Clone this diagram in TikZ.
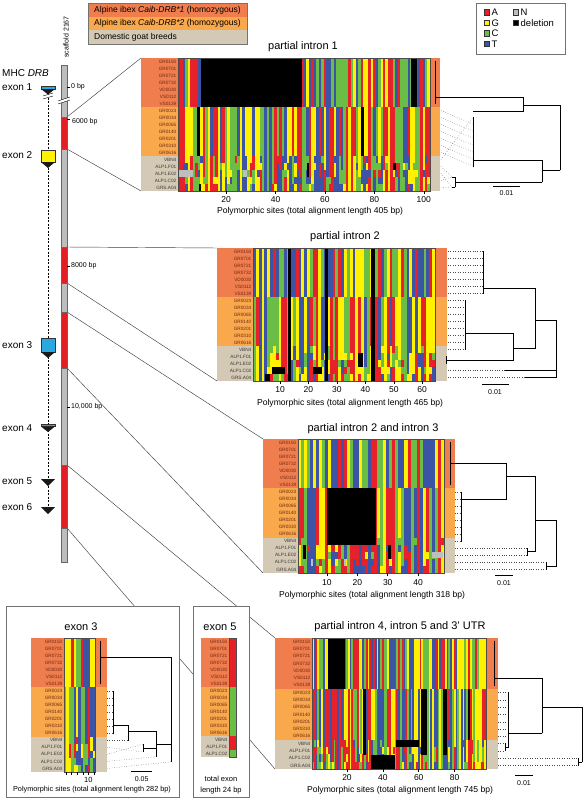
\documentclass[tikz,border=0pt]{standalone}
\usepackage{fontspec}
\setmainfont{Liberation Sans}
\definecolor{nc1}{HTML}{E62129}
\definecolor{nc2}{HTML}{FFF100}
\definecolor{nc3}{HTML}{6ABD45}
\definecolor{nc4}{HTML}{3B54A5}
\definecolor{ncN}{HTML}{BEBEBE}
\definecolor{bandA}{HTML}{F07D4E}
\definecolor{bandB}{HTML}{F9A84C}
\definecolor{bandC}{HTML}{D3C9B4}
\definecolor{labA}{HTML}{6E2A14}
\definecolor{labC}{HTML}{3A3A3A}
\definecolor{exblue}{HTML}{29A9E0}
\definecolor{exyel}{HTML}{FFF200}
\definecolor{scafred}{HTML}{E31E24}
\definecolor{scafgray}{HTML}{BDBDBD}
\newcommand{\Lnineteen}{GR0150,GR0701,GR0721,GR0732,VD0030,VS0112,VS0139,GR0023,GR0034,GR0065,GR0140,GR0201,GR0310,GR0616,VBN4,ALP1.F01,ALP1.E02,ALP1.C02,GRS.A04}
\newcommand{\Leighteen}{GR0150,GR0701,GR0721,GR0732,VD0030,VS0112,VS0139,GR0023,GR0034,GR0065,GR0140,GR0201,GR0310,GR0616,VBN4,ALP1.F01,ALP1.C02,GRS.A04}
\newcommand{\Lseventeen}{GR0150,GR0701,GR0721,GR0732,VD0030,VS0112,VS0139,GR0023,GR0034,GR0065,GR0140,GR0201,GR0310,GR0616,VBN4,ALP1.F01,ALP1.C02}
\newcommand{\bandbg}[5]{%
  \fill[bandA] (#1,#3) rectangle (#2,{#3+7*#4});
  \fill[bandB] (#1,{#3+7*#4}) rectangle (#2,{#3+14*#4});
  \fill[bandC] (#1,{#3+14*#4}) rectangle (#2,{#3+(14+#5)*#4});
}
\newcommand{\rowlabels}[5]{%
  \foreach \lab [count=\ii] in #4 {
    \ifnum\ii<15 \def\lcol{labA}\else\def\lcol{labC}\fi
    \node[samp,text=\lcol] (#5\ii) at (#1,{#2+(\ii-0.5)*#3}) {\lab};
  }
}
\newcommand{\aln}[7]{%
  \pgfmathsetseed{#7}
  \foreach \sc in {1,...,#5}{
    \pgfmathrandominteger{\colA}{1}{4}
    \pgfmathrandominteger{\colB}{1}{4}
    \pgfmathsetmacro{\xa}{#1+(\sc-1)*#3}
    \pgfmathsetmacro{\xb}{#1+\sc*#3+0.15}
    \fill[fill=nc\colA] (\xa,#2) rectangle (\xb,{#2+7*#4});
    \fill[fill=nc\colB] (\xa,{#2+7*#4}) rectangle (\xb,{#2+14*#4});
    \global\let\prevC\colB
    \foreach \rr in {1,...,#6}{
      \pgfmathrandominteger{\rt}{1}{10}
      \pgfmathrandominteger{\colX}{1}{4}
      \pgfmathtruncatemacro{\colR}{\rt<5 ? \prevC : (\rt<8 ? \colB : (\rt<9 ? \colA : \colX))}
      \global\let\prevC\colR
      \fill[fill=nc\colR] (\xa,{#2+(13+\rr)*#4}) rectangle (\xb,{#2+(14+\rr)*#4});
    }
  }
}
\begin{document}
\begin{tikzpicture}[x=1pt,y=-1pt,
  ttl/.style={inner sep=0, font=\fontsize{11}{13}\selectfont},
  captxt/.style={inner sep=0, font=\fontsize{8.6}{10}\selectfont},
  tklab/.style={inner sep=0, font=\fontsize{8.5}{10}\selectfont},
  samp/.style={anchor=east, inner sep=0, font=\fontsize{4.7}{5}\selectfont},
  scl/.style={inner sep=0, font=\fontsize{7}{8}\selectfont},
  exl/.style={anchor=west, inner sep=0, font=\fontsize{10}{12}\selectfont},
  bpl/.style={anchor=west, inner sep=0, font=\fontsize{7}{8}\selectfont},
  lgt/.style={anchor=west, inner sep=0, font=\fontsize{8.5}{10}\selectfont},
  lgr/.style={anchor=west, inner sep=0, font=\fontsize{9.5}{11}\selectfont},
  tl/.style={line width=0.8pt, line cap=rect},
  dl/.style={dotted, line width=0.45pt, black!70},
  conn/.style={line width=0.45pt, black!75},
  aborder/.style={draw=black!70, line width=0.5pt},
  boxb/.style={draw=black!55, line width=0.7pt, fill=white},
  sq/.style={draw=black!80, line width=0.4pt},
  tri/.style={fill=black!90},
  tickm/.style={line width=0.5pt}]
\useasboundingbox (0,0) rectangle (583,800);
\fill[white] (0,0) rectangle (583,800);

% ---------- connectors scaffold -> panels ----------
\coordinate (r1t) at (67,117); \coordinate (r1b) at (67,149);
\coordinate (r2t) at (67,247); \coordinate (r2b) at (67,283);
\coordinate (r3t) at (67,312); \coordinate (r3b) at (67,368);
\coordinate (r4t) at (67,465); \coordinate (r4b) at (67,528);
\coordinate (p1tl) at (141,58);  \coordinate (p1bl) at (141,191);
\coordinate (p2tl) at (217,248); \coordinate (p2bl) at (217,381);
\coordinate (p3tl) at (263,439); \coordinate (p3bl) at (263,573);
\coordinate (p4tl) at (275,638); \coordinate (p4bl) at (275,769);
\draw[conn] (r1t) -- (p1tl); \draw[conn] (r1b) -- (p1bl);
\draw[conn] (r2t) -- (p2tl); \draw[conn] (r2b) -- (p2bl);
\draw[conn] (r3t) -- (p3tl); \draw[conn] (r3b) -- (p3bl);
\draw[conn] (r4t) -- (p4tl); \draw[conn] (r4b) -- (p4bl);

% ---------- exon boxes ----------
\draw[boxb] (6,606) rectangle (179,797);
\draw[boxb] (193,606) rectangle (249,797);

% ---------- legends ----------
\fill[bandA] (88,3) rectangle (247,17);
\fill[bandB] (88,17) rectangle (247,30);
\fill[bandC] (88,30) rectangle (247,44);
\draw[black!55, line width=0.6pt] (88,3) rectangle (247,44);
\node[lgt] (lg1) at (94,10.2) {Alpine ibex \textit{Caib-DRB*1} (homozygous)};
\node[lgt] (lg2) at (94,23.7) {Alpine ibex \textit{Caib-DRB*2} (homozygous)};
\node[lgt] (lg3) at (94,37) {Domestic goat breeds};

\draw[black!55, line width=0.6pt] (476,3) rectangle (565,54);
\filldraw[sq, fill=nc1] (484,9.5) rectangle (489.5,15);
\filldraw[sq, fill=nc2] (484,20) rectangle (489.5,25.5);
\filldraw[sq, fill=nc3] (484,30.5) rectangle (489.5,36);
\filldraw[sq, fill=nc4] (484,41) rectangle (489.5,46.5);
\filldraw[sq, fill=ncN] (513,9.5) rectangle (518.5,15);
\filldraw[sq, fill=black] (513,20) rectangle (518.5,25.5);
\node[lgr] (lA) at (491.5,12.3) {A};
\node[lgr] (lG) at (491.5,22.8) {G};
\node[lgr] (lC) at (491.5,33.3) {C};
\node[lgr] (lT) at (491.5,43.8) {T};
\node[lgr] (lN) at (520.5,12.3) {N};
\node[lgr] (lD) at (520.5,22.8) {deletion};

% ---------- scaffold ----------
\node[rotate=90, inner sep=0, font=\fontsize{7}{8}\selectfont] (scaf) at (66,37) {scaffold 2167};
\fill[scafgray] (61,65) rectangle (67,562);
\foreach \ya/\yb in {117/149,247/283,312/368,465/528}{
  \fill[scafred] (61,\ya) rectangle (67,\yb);
  \draw[black!60, line width=0.4pt] (61,\ya) rectangle (67,\yb);
}
\draw[black!60, line width=0.4pt] (61,65) rectangle (67,562);
\fill[white] (58,101) -- (70,97) -- (70,100) -- (58,104) -- cycle;
\draw[line width=0.4pt] (58,101) -- (70,97);
\draw[line width=0.4pt] (58,104) -- (70,100);
\foreach \yy in {87,119,266,407}{
  \draw[line width=0.4pt] (67,\yy) -- (70,\yy);
}
\node[bpl] (bp0) at (71,87) {0 bp};
\node[bpl] (bp6) at (72,122) {6000 bp};
\node[bpl] (bp8) at (71,266) {8000 bp};
\node[bpl] (bp10) at (71,407) {10,000 bp};

% exon line
\draw[line width=0.5pt, dash pattern=on 2pt off 1.5pt] (48,94) -- (48,507);
\fill[white] (43,96) -- (53,93) -- (53,96) -- (43,99) -- cycle;
\draw[line width=0.4pt] (43,96) -- (53,93);
\draw[line width=0.4pt] (43,99) -- (53,96);
% exon markers
\filldraw[sq, fill=exblue] (41,86.5) rectangle (55,89);
\fill[tri] (41,89) -- (55,89) -- (48,94.5) -- cycle;
\filldraw[sq, fill=exyel] (41,150) rectangle (55,162);
\fill[tri] (41,162) -- (55,162) -- (48,168) -- cycle;
\filldraw[sq, fill=exblue] (41,338) rectangle (55,352);
\fill[tri] (41,352) -- (55,352) -- (48,358) -- cycle;
\filldraw[sq, fill=exblue] (41,424) rectangle (55,426.5);
\fill[tri] (41,426.5) -- (55,426.5) -- (48,432) -- cycle;
\fill[tri] (41,479) -- (55,479) -- (48,486) -- cycle;
\fill[tri] (41,507) -- (55,507) -- (48,514) -- cycle;
\node[exl] (mhc) at (2,73) {MHC \textit{DRB}};
\node[exl] (e1) at (2,87) {exon 1};
\node[exl] (e2) at (2,155) {exon 2};
\node[exl] (e3) at (2,345) {exon 3};
\node[exl] (e4) at (2,428) {exon 4};
\node[exl] (e5) at (2,481) {exon 5};
\node[exl] (e6) at (2,507) {exon 6};

% ================= PANEL 1 =================
\node[ttl] (t1) at (303,47) {partial intron 1};
\bandbg{141}{440}{58}{7}{5}
\aln{178}{58}{2.47}{7}{102}{5}{11}
\fill[black] (201,58) rectangle (302,107);
\fill[black] (411,58) rectangle (417,107);
\fill[black] (197,107) rectangle (200,156);
\fill[black] (361,107) rectangle (363.5,156);
\fill[ncN] (179,170) rectangle (193,177);
\fill[ncN] (243,170) rectangle (247,177);
\fill[black] (307,163) rectangle (308.5,177);
\fill[black] (393,163) rectangle (396,170);
\fill[black] (199,184) rectangle (201,191);
\draw[aborder] (178,58) rectangle (430,191);
\rowlabels{176.5}{58}{7}{\Lnineteen}{pa}
\foreach \n in {20,40,60,80,100}{
  \pgfmathsetmacro{\xt}{178+(\n-0.5)*2.47}
  \draw[tickm] (\xt,191) -- (\xt,193.5);
  \node[tklab] at (\xt,199.5) {\n};
}
\node[captxt] (c1) at (310,211) {Polymorphic sites (total alignment length 405 bp)};
% tree 1
\draw[tl] (435,61.5) -- (435,103.5);
\draw[tl] (435,97.7) -- (523,97.7);
\draw[tl] (523,97.7) -- (523,111.7);
\draw[tl] (473,111.7) -- (523,111.7);
\draw[tl] (523,105) -- (560,105);
\draw[tl] (560,105) -- (560,170);
\draw[tl] (542,170) -- (560,170);
\draw[tl] (542,160) -- (542,182);
\draw[tl] (473,160) -- (542,160);
\draw[tl] (473,117) -- (473,167);
\draw[tl] (455,182) -- (542,182);
\draw[tl] (455,177) -- (455,187);
\draw[tl] (452,177) -- (455,177);
\draw[tl] (452,187) -- (455,187);
\foreach \k in {0,...,6}{ \draw[dl] (441,{110.5+7*\k}) -- (473,{124+7*\k}); }
\draw[dl] (441,159.5) -- (473,117);
\draw[dl] (441,166.5) -- (452,177);
\draw[dl] (441,173.5) -- (452,187);
\draw[dl] (441,180.5) -- (452,177);
\draw[dl] (441,187.5) -- (452,187);
\draw[tl] (493,186) -- (520,186);
\node[scl] (s1) at (506.5,193.5) {0.01};

% ================= PANEL 2 =================
\node[ttl] (t2) at (345,237) {partial intron 2};
\bandbg{217}{447}{248}{7}{5}
\aln{253}{248}{2.844}{7}{64}{5}{23}
\fill[black] (288,248) rectangle (291,381);
\fill[black] (325,248) rectangle (327.5,381);
\fill[black] (371,248) rectangle (375,381);
\fill[black] (358,353) rectangle (363,367);
\fill[black] (272,367) rectangle (285,374);
\fill[black] (313,367) rectangle (322,374);
\fill[black] (265,374) rectangle (270,381);
\draw[aborder] (253,248) rectangle (435,381);
\rowlabels{251.5}{248}{7}{\Lnineteen}{pb}
\foreach \n in {10,20,30,40,50,60}{
  \pgfmathsetmacro{\xt}{253+(\n-0.5)*2.844}
  \draw[tickm] (\xt,381) -- (\xt,383.5);
  \node[tklab] at (\xt,389.5) {\n};
}
\node[captxt] (c2) at (350,403) {Polymorphic sites (total alignment length 465 bp)};
% tree 2
\foreach \k in {0,...,6}{ \draw[dl] (448,{251.5+7*\k}) -- (483,{251.5+7*\k}); }
\draw[tl] (483,251.5) -- (483,293.5);
\draw[tl] (483,288.3) -- (535,288.3);
\draw[tl] (535,288.3) -- (535,348.3);
\draw[tl] (513.3,348.3) -- (535,348.3);
\draw[tl] (513.3,333.3) -- (513.3,360);
\draw[tl] (465,333.3) -- (513.3,333.3);
\foreach \k in {0,...,7}{ \draw[dl] (448,{300.5+7*\k}) -- (465,{300.5+7*\k}); }
\draw[tl] (465,300.5) -- (465,349.5);
\draw[tl] (446.7,360) -- (513.3,360);
\draw[tl] (446.7,356.5) -- (446.7,363.5);
\draw[tl] (535,320) -- (556.7,320);
\draw[tl] (556.7,320) -- (556.7,377.5);
\draw[dl] (448,370.5) -- (505,370.5);
\draw[tl] (505,370.5) -- (556.7,370.5);
\draw[dl] (448,377.5) -- (525,377.5);
\draw[tl] (525,377.5) -- (556.7,377.5);
\draw[tl] (482,384.3) -- (508.3,384.3);
\node[scl] (s2) at (495,392) {0.01};

% ================= PANEL 3 =================
\node[ttl] (t3) at (373,429) {partial intron 2 and intron 3};
\bandbg{263}{455}{439}{7.05}{5}
\aln{298}{439}{3.042}{7.05}{48}{5}{37}
\fill[black] (327,488.4) rectangle (376,544.8);
\fill[black] (303,544.8) rectangle (306,558.9);
\fill[black] (388,544.8) rectangle (391,558.9);
\fill[ncN] (432,551.8) rectangle (443,557.5);
\fill[ncN] (311,558.9) rectangle (313,565.9);
\fill[ncN] (344,558.9) rectangle (346,565.9);
\draw[aborder] (298,439) rectangle (444,573);
\rowlabels{296.5}{439}{7.05}{\Lnineteen}{pc}
\foreach \n in {10,20,30,40}{
  \pgfmathsetmacro{\xt}{298+(\n-0.5)*3.042}
  \draw[tickm] (\xt,573) -- (\xt,575.5);
  \node[tklab] at (\xt,583) {\n};
}
\node[captxt] (c3) at (372,595) {Polymorphic sites (total alignment length 318 bp)};
% tree 3
\draw[tl] (450.7,442.5) -- (450.7,484.9);
\draw[tl] (450.7,463.3) -- (506,463.3);
\draw[tl] (506,463.3) -- (506,499.3);
\draw[tl] (461.7,499.3) -- (506,499.3);
\foreach \k in {0,...,7}{ \draw[dl] (455,{491.9+7.05*\k}) -- (461.7,{491.9+7.05*\k}); }
\draw[tl] (461.7,491.9) -- (461.7,541.2);
\draw[tl] (506,476.7) -- (535,476.7);
\draw[tl] (535,476.7) -- (535,551.8);
\draw[tl] (527.7,551.8) -- (535,551.8);
\draw[dl] (455,548.3) -- (527.7,548.3);
\draw[dl] (455,555.3) -- (527.7,555.3);
\draw[tl] (527.7,548.3) -- (527.7,555.3);
\draw[tl] (535,520) -- (556.7,520);
\draw[tl] (556.7,520) -- (556.7,565.9);
\draw[tl] (546.7,565.9) -- (556.7,565.9);
\draw[dl] (455,562.4) -- (546.7,562.4);
\draw[dl] (455,569.4) -- (546.7,569.4);
\draw[tl] (546.7,562.4) -- (546.7,569.4);
\draw[tl] (495,575) -- (512.7,575);
\node[scl] (s3) at (504,583) {0.01};

% ================= PANEL 4 =================
\node[ttl] (t4) at (400,627) {partial intron 4, intron 5 and 3' UTR};
\bandbg{275}{498}{638}{7.28}{4}
\aln{312}{638}{1.794}{7.28}{97}{4}{53}
\fill[black] (328,638) rectangle (345,689);
\fill[black] (363,689) rectangle (366,754.6);
\fill[black] (421,689) rectangle (427,754.6);
\fill[black] (443,689) rectangle (447,754.6);
\fill[black] (468,689) rectangle (470,740);
\fill[black] (396,740) rectangle (419,747.3);
\fill[black] (371,754.6) rectangle (395,769);
\draw[aborder] (312,638) rectangle (486,769);
\rowlabels{310.5}{638}{7.28}{\Leighteen}{pd}
\foreach \n in {20,40,60,80}{
  \pgfmathsetmacro{\xt}{312+(\n-0.5)*1.794}
  \draw[tickm] (\xt,769) -- (\xt,771.5);
  \node[tklab] at (\xt,778) {\n};
}
\node[captxt] (c4) at (400,790) {Polymorphic sites (total alignment length 745 bp)};
% tree 4
\draw[tl] (494,641.6) -- (494,685.4);
\draw[tl] (494,678) -- (542,678);
\draw[tl] (542,678) -- (542,733);
\draw[tl] (508,733) -- (542,733);
\foreach \k in {0,...,6}{ \draw[dl] (498,{692.6+7.28*\k}) -- (508,{692.6+7.28*\k}); }
\draw[tl] (508,692.6) -- (508,747.2);
\draw[dl] (498,743.6) -- (505,743.6);
\draw[dl] (498,750.9) -- (505,750.9);
\draw[tl] (505,743.6) -- (505,750.9);
\draw[tl] (505,747.2) -- (508,747.2);
\draw[tl] (542,707) -- (582,707);
\draw[tl] (582,707) -- (582,761.9);
\draw[dl] (498,758.2) -- (578,758.2);
\draw[dl] (498,765.5) -- (578,765.5);
\draw[tl] (578,758.2) -- (578,765.5);
\draw[tl] (578,761.9) -- (582,761.9);
\draw[tl] (515,775) -- (533,775);
\node[scl] (s4) at (524,783) {0.01};

% ================= EXON 3 BOX =================
\node[ttl] (t5) at (81,627) {exon 3};
\bandbg{31}{107}{638}{7.05}{5}
\aln{64}{638}{2.385}{7.05}{13}{5}{77}
\draw[aborder] (64,638) rectangle (95,772);
\rowlabels{62.5}{638}{7.05}{\Lnineteen}{pe}
\foreach \xx in {66.7,71.7,77.3,83.3,88.3,94}{ \draw[tickm] (\xx,772) -- (\xx,775); }
\node[inner sep=0, font=\fontsize{7.5}{9}\selectfont] (x10) at (88.3,780) {10};
\node[inner sep=0, font=\fontsize{7.3}{9}\selectfont] (c5) at (92,790) {Polymorphic sites (total alignment length 282 bp)};
\draw[tl] (100,641.5) -- (100,683.8);
\draw[tl] (100,657) -- (171.7,657);
\draw[tl] (171.7,657) -- (171.7,761.7);
\foreach \k in {0,...,6}{ \draw[dl] (107,{690.9+7.05*\k}) -- (113.3,{690.9+7.05*\k}); }
\draw[tl] (113.3,690.9) -- (113.3,733.2);
\draw[tl] (113.3,725) -- (128.3,725);
\draw[tl] (128.3,725) -- (128.3,740.3);
\draw[dl] (107,740.3) -- (128.3,740.3);
\draw[tl] (128.3,731.7) -- (156.7,731.7);
\draw[tl] (156.7,731.7) -- (156.7,756.7);
\draw[tl] (143.3,744) -- (143.3,752);
\draw[tl] (143.3,748) -- (156.7,748);
\draw[dl] (107,747.3) -- (143.3,752);
\draw[dl] (107,754.4) -- (143.3,744);
\draw[dl] (107,761.4) -- (156.7,756.7);
\draw[tl] (156.7,744) -- (171.7,744);
\draw[dl] (107,768.5) -- (171.7,761.7);
\draw[tl] (131.7,771) -- (151.7,771);
\node[scl] (s5) at (141.7,779) {0.05};

% ================= EXON 5 BOX =================
\node[ttl] (t6) at (220,627) {exon 5};
\bandbg{201}{237}{638}{7}{3}
\fill[nc1] (229.3,638) rectangle (236,687);
\fill[nc3] (229.3,687) rectangle (236,736);
\fill[nc1] (229.3,736) rectangle (236,750);
\fill[nc3] (229.3,750) rectangle (236,757);
\draw[aborder] (229.3,638) rectangle (236,757);
\rowlabels{227.5}{638}{7}{\Lseventeen}{pf}
\node[inner sep=0, align=center, font=\fontsize{7.5}{11}\selectfont] (c6) at (221,785.5) {total exon\\length 24 bp};
\end{tikzpicture}
\end{document}
